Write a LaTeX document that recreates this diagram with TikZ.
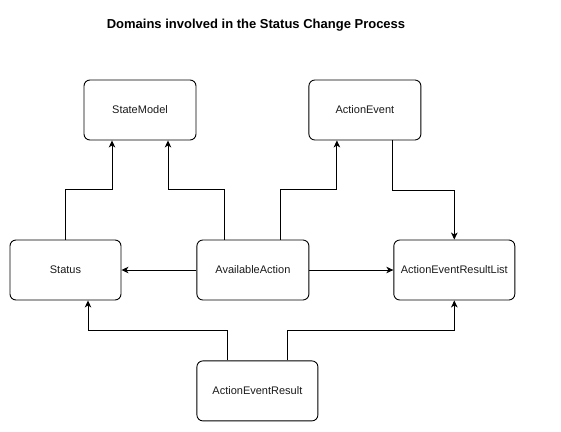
\documentclass[tikz,border=0pt]{standalone}
\usepackage{fontspec}
\setmainfont{Liberation Sans}
\usetikzlibrary{arrows.meta,positioning}
\definecolor{ink}{HTML}{000000}
\definecolor{label}{HTML}{1A1A1A}
\tikzset{
  box/.style={draw=ink, rounded corners=6pt, line width=0.9pt, align=center, minimum height=60pt, minimum width=112pt, inner sep=0pt, text=label, font=\fontsize{11pt}{13pt}\selectfont},
  wide/.style={box, minimum width=121pt},
  arrow/.style={-{Stealth[length=7pt,width=6.5pt,inset=2pt]}, line width=0.9pt, draw=ink}
}
\begin{document}
\begin{tikzpicture}[x=1pt, y=1pt]
  \useasboundingbox (0,0) rectangle (561,-431);
  \node[font=\fontsize{13pt}{15pt}\selectfont\bfseries] (title) at (256,-25) {Domains involved in the Status Change Process};

  \node[box] (statemodel) at (140,-110) {StateModel};
  \node[box, right=112pt of statemodel] (actionevent) {ActionEvent};

  \node[box, minimum width=111pt] (status) at (65.5,-270) {Status};
  \node[box, right=75pt of status] (available) {AvailableAction};
  \node[wide, right=84pt of available] (resultlist) {ActionEventResultList};
  \node[wide, below=60pt of available, xshift=4.5pt] (result) {ActionEventResult};

  \draw[arrow] (status.north) -- ++(0,50) -| ([xshift=-28pt]statemodel.south);
  \draw[arrow] ([xshift=-28pt]available.north) -- ++(0,50) -| ([xshift=28pt]statemodel.south);
  \draw[arrow] ([xshift=28pt]available.north) -- ++(0,50) -| ([xshift=-28pt]actionevent.south);
  \draw[arrow] ([xshift=28pt]actionevent.south) -- ++(0,-50) -| (resultlist.north);
  \draw[arrow] (available) -- (status);
  \draw[arrow] (available) -- (resultlist);
  \draw[arrow] ([xshift=-30pt]result.north) -- ++(0,30) -| ([xshift=22.5pt]status.south);
  \draw[arrow] ([xshift=30pt]result.north) -- ++(0,30) -| (resultlist.south);
\end{tikzpicture}
\end{document}
